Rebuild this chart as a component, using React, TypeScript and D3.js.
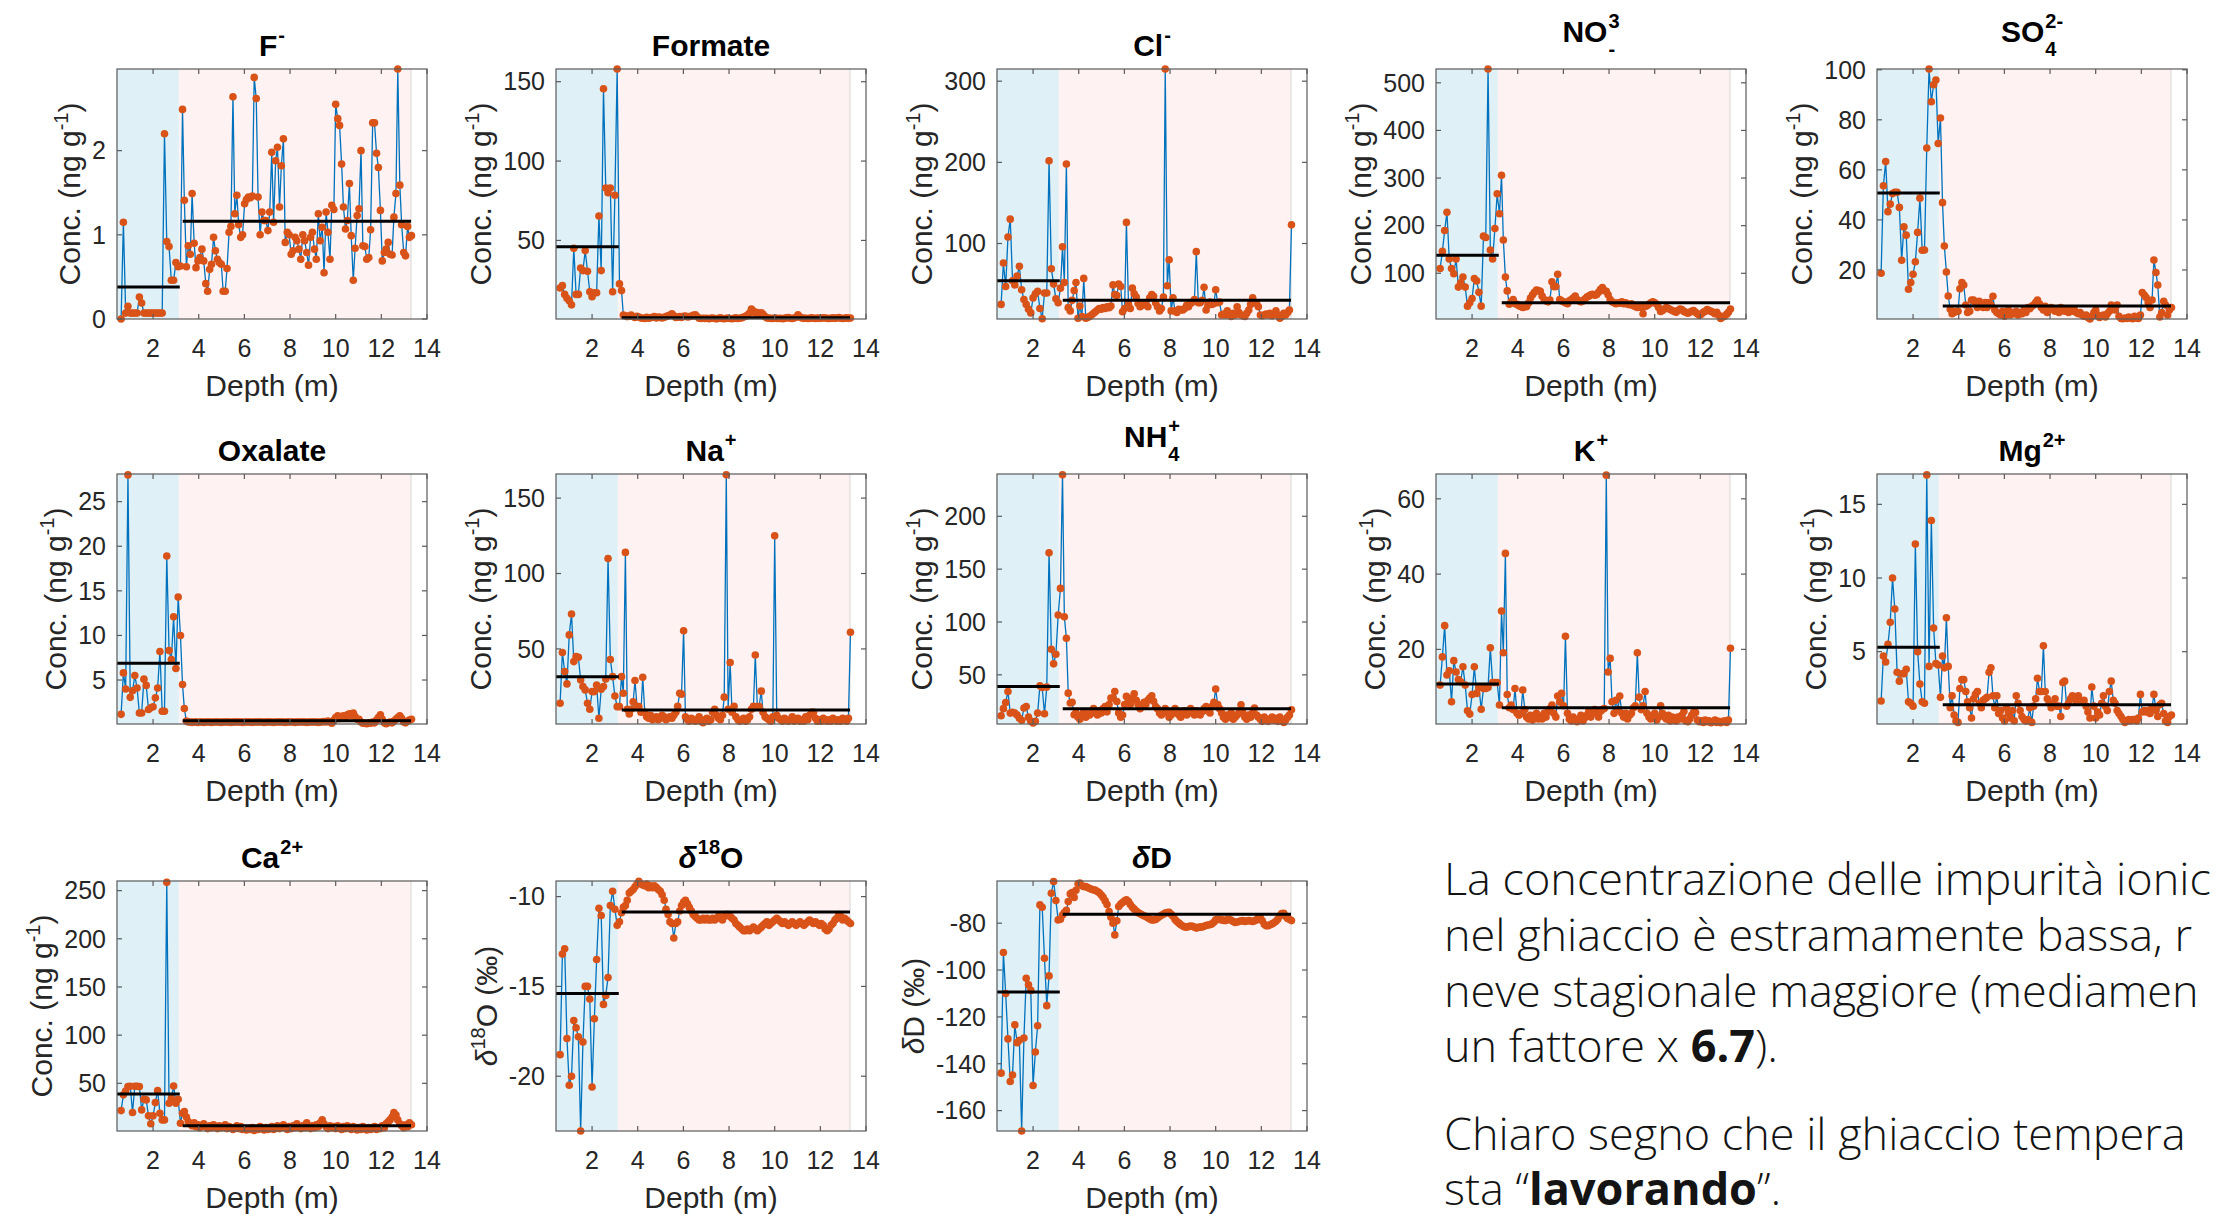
import React from 'react';
import * as d3 from 'd3';

// ---------- sampling depths (m) ----------
const snowDepth = [0.6,0.7,0.8,0.9,1.0,1.1,1.2,1.3,1.4,1.5,1.6,1.7,1.8,1.9,2.0,2.1,2.2,2.3,2.4,2.5,2.6,2.7,2.8,2.9,3.0,3.1];
const iceDepth = [3.20,3.29,3.37,3.46,3.54,3.63,3.71,3.80,3.88,3.97,4.05,4.14,4.22,4.31,4.39,4.48,4.56,4.65,4.73,4.82,
4.90,4.99,5.07,5.16,5.24,5.33,5.41,5.50,5.58,5.67,5.75,5.84,5.92,6.01,6.09,6.18,6.26,6.35,6.43,6.52,
6.60,6.69,6.77,6.86,6.94,7.03,7.11,7.20,7.28,7.37,7.45,7.54,7.62,7.71,7.79,7.88,7.96,8.05,8.13,8.22,
8.30,8.39,8.47,8.56,8.64,8.73,8.81,8.90,8.98,9.07,9.15,9.24,9.32,9.41,9.49,9.58,9.66,9.75,9.83,9.92,
10.00,10.09,10.17,10.26,10.34,10.43,10.51,10.60,10.68,10.77,10.85,10.94,11.02,11.11,11.19,11.28,11.36,11.45,11.53,11.62,
11.70,11.79,11.87,11.96,12.04,12.13,12.21,12.30,12.38,12.47,12.55,12.64,12.72,12.81,12.89,12.98,13.06,13.15,13.23,13.32];

// ---------- series ----------
const fSnow = [0,1.15,0.07,0.15,0.07,0.07,0.07,0.07,0.26,0.19,0.07,0.07,0.07,0.07,0.07,0.07,0.07,0.07,0.07,2.2,0.92,0.86,0.46,0.46,0.67,0.62];
const fIce = [0.63,2.49,1.41,0.62,0.87,0.77,1.49,0.9,0.61,0.69,
0.73,0.83,0.69,0.42,0.33,0.59,0.65,0.97,0.81,0.71,
0.67,0.65,0.33,0.33,0.6,1.03,1.1,2.64,1.25,1.47,
1.12,0.97,1.0,1.37,1.42,1.45,1.44,1.46,2.87,2.62,
1.45,1.0,1.27,1.17,1.17,1.05,1.27,1.98,1.15,1.88,
2.04,1.33,1.82,2.14,0.91,1.03,1.0,0.77,0.81,0.97,
0.93,0.83,0.71,1.0,0.93,0.79,0.64,0.97,1.03,0.83,
0.71,1.25,0.93,1.09,0.55,1.27,1.03,0.71,1.35,1.3,
2.55,2.38,2.3,1.84,1.33,1.07,1.17,1.61,0.99,0.46,
0.84,1.23,1.31,2.0,0.87,0.86,0.71,0.73,1.06,2.33,
2.33,1.97,1.8,1.29,0.69,0.79,0.83,0.91,0.77,0.76,
1.21,1.49,2.97,1.59,1.12,0.79,0.75,1.1,0.97,0.99];

const formateSnow = [20,21.5,16,13.6,12,9.4,45,16,16,32.6,31,43.6,30.6,17.7,14.5,17,17,65.4,31,145.6,83,80,83,17.7,78.5,158];
const formateIce = [22.6,18.4,3,2.5,2,2.2,3,2,1.5,2.2,
1.8,1.2,1,0.8,1.5,1,1.3,1.6,2,1.2,
1.8,1.5,1.2,1.6,2,2.5,3,3.8,2.5,1.5,
1.6,2,1.4,2.2,2.4,1.8,2,2.2,2.8,3.2,
2,1,0.8,1,0.8,1,0.7,0.9,1.1,0.8,
0.6,0.9,1.2,0.8,0.7,0.9,1,0.8,0.7,0.9,
1.2,0.8,1,1.3,1.8,2.2,3,4.2,6.8,5.5,
4.2,4.6,3.8,4.4,3.5,2,1.2,1,0.9,0.8,
1.1,0.9,0.8,1,0.7,0.9,1.2,1.4,1,0.8,
1.1,1.6,3.2,1.8,1.1,0.9,1,0.8,0.9,1.2,
1,0.8,1.1,0.9,1,1.3,1.1,0.9,0.8,1,
1.2,0.9,1.1,1.4,1,0.8,1,1.2,0.9,1.1];

const clSnow = [25,76,47,108,130,54,49,60,72,43,31,25,19,14.5,33,38,41,20,7.4,39,39,202,69,50,32,27];
const clIce = [45,96,52,198,21,17,30,42,52,8,
23,10,57,8,9,10,12,14,16,18,
20,19,21,20,22,21,23,49,37,36,
50,47,16,20,126,25,20,45,38,34,
26,22,24,27,25,22,33,37,35,27,
22,17,20,34,315,48,80,17,33,17,
15,19,18,18,20,24,22,26,28,31,
90,27,27,30,46,18,24,28,25,26,
43,27,28,12,13,12,17,13,10,14,
12,22,15,12,11,10,14,18,25,33,
28,26,22,12,11,12,13,12,14,11,
13,17,12,8,10,14,12,15,18,123];

const no3Snow = [110,146,190,228,130,110,99,130,71,80,92,71,31,38,47,89,84,60,31,178,175,529,149,130,194,267];
const no3Ice = [225,306,170,92,63,35,40,45,36,35,
32,30,28,32,30,38,48,55,60,65,
64,62,52,45,42,40,44,82,72,72,
98,45,42,40,38,36,42,45,48,52,
45,42,40,42,46,50,52,55,56,54,
55,60,66,70,64,62,55,45,40,38,
36,38,37,40,36,38,35,34,36,32,
30,28,30,28,15,30,32,35,38,40,
38,35,28,20,22,25,28,26,24,22,
20,18,22,25,24,20,18,16,18,20,
22,18,15,12,14,18,20,24,22,20,
18,15,18,12,5,8,10,14,18,25];

const so4Snow = [18.7,53.6,63.3,43.3,46.3,50.5,51,51,45,23.9,37.2,33.9,12.3,15,18.3,23.3,35,48.7,27.9,28,68.7,100.3,87.2,94,95.9,70.5];
const so4Ice = [80.7,46.9,29.6,19.2,9.6,4.3,2.5,3,3.5,3.5,
12.5,15,14,6,3,3.5,8,8,7,5,
7.5,6.5,5,7,5,7,6,9.5,4,3,
2.5,2,3.5,1.5,2.5,4,2,3,2.5,3.5,
2,3,2.5,4,3,5,4.5,5.5,6,7,
8,6.5,5,4,5.5,3,4,5,4.5,3.5,
4,3,5,4,3.5,4,3,4.5,3.5,4,
3,2.5,3,2,1.5,2,1,0.4,1.5,3,
4,2,1,1.5,2,1.2,2.5,3.5,6,5,
4,6,1.5,0.6,0.5,0.8,0.6,1.2,0.7,0.5,
1.5,0.8,0.6,2,11,10,9,7,5,8,
24,19,14,1.2,3,7.5,6,2,4,5];

const oxSnow = [1.15,5.8,4.0,28,3.06,3.8,5.5,4.1,1.3,1.3,5.1,4.4,1.7,1.9,2.0,3.0,4.1,8.2,1.5,1.5,18.9,8.3,7.3,12.1,6.3,14.3];
const oxIce = [10,4.5,1.8,0.4,0.3,0.3,0.25,0.3,0.3,0.25,
0.3,0.3,0.25,0.3,0.3,0.3,0.25,0.3,0.3,0.3,
0.3,0.25,0.3,0.3,0.3,0.3,0.25,0.3,0.3,0.3,
0.3,0.3,0.25,0.3,0.3,0.3,0.3,0.25,0.3,0.3,
0.3,0.3,0.3,0.25,0.3,0.3,0.3,0.3,0.25,0.3,
0.3,0.3,0.3,0.3,0.25,0.3,0.3,0.3,0.3,0.25,
0.3,0.3,0.3,0.3,0.3,0.25,0.3,0.3,0.3,0.3,
0.3,0.25,0.3,0.3,0.35,0.3,0.4,0.3,0.15,0.5,
0.8,1,0.7,0.9,1,0.8,1.1,1.2,1,1.3,
0.9,0.6,0.6,0.3,0.15,0.15,0.1,0.2,0.15,0.3,
0.2,0.5,0.8,1.1,0.6,0.2,0.1,0.2,0.3,0.2,
0.4,0.6,0.8,1,0.7,0.3,0.2,0.4,0.5,0.6];

const naSnow = [14,47.6,35,26.8,59.3,73.2,41.6,45,44.5,29.4,25,22.8,14,10,21.7,21.7,26,4,23.2,25,30,110,43,31.6,18.8,11.7];
const naIce = [11.7,31.6,20.6,114,10,6.9,10,15,29,12,
11.7,8,31.2,8,5,4,6,3,4,5,
3,4,6,5,3,4,5,4,6,8,
12,20.6,20,62,5,3,2,4,3,2,
3,5,2,1,3,4,2,3,8,10,
6,4,3,6,18,165.5,10,41,8,12,
5,3,2,3,4,2,3,5,10,12,
46,11.7,11.7,22,8,5,4,3,2,5,
125,6,4,3,2,4,3,2,3,5,
2,3,4,2,3,2,5,3,6,8,
8,4,2,3,2,4,3,2,3,2,
4,3,2,3,2,4,3,2,4,61];

const nh4Snow = [11.3,18,23.9,34.3,13.8,14.5,13.8,12,9,7,18.6,20,10,6,4.4,6,13.8,39.6,38,13.2,38.4,165.4,74.2,60.4,69.5,106.6];
const nh4Ice = [131.8,239.3,105,84.6,32.7,23.3,24,12.3,14,10,
8,12,15,10,13,12,14,18,15,12,
16,14,18,20,15,22,28,28,34.3,24.8,
14,10,12,22,29.6,25,22,28,32,26,
22,18,20,24,22,26,28,30.2,25,20,
18,14,12,15,18,14,10,12,15,18,
14,12,10,14,16,12,15,18,14,12,
16,14,12,15,18,20,16,14,20,24,
36.5,22,18,14,10,8,12,10,14,8,
10,12,14,21.7,14,10,8,12,10,14,
18.6,12,10,8,6,10,8,6,8,10,
7,9,6,10,8,5,7,10,12,17];

const kSnow = [10.5,18,26.3,13.2,14.3,6.1,17,14,12,11.4,15.4,10.5,3.7,2.8,8,15.4,8.3,9.9,4.1,9.6,9.6,9.9,20.4,11.2,11.2,11.2];
const kIce = [5.2,30.2,19.1,45.5,8,4.5,5.2,4,9.6,3,
2.5,3,9.2,4,2,1.5,2.5,1.2,2,3,
1.5,2.2,1.5,3,2,3.5,4.3,5.2,3,2,
7.6,6,8.3,5,23.5,3,1.5,1,2,1.2,
0.8,1.5,2.5,1,1.8,2.5,3.5,2,3,4,
3,2,3.5,4,4.3,66.3,14,17.6,6.1,3,
6.5,4,7.6,3,2,3,1.5,2.5,3,4.5,
5,19.1,7.3,4,5,8.8,3,2,1.5,2.5,
3,1.2,2,5,3,2,1.5,2.5,1,2,
1.5,1,2,1.5,2.5,3.5,1,0.8,1.5,2.5,
3.2,3.2,1.2,0.8,1,0.6,1.2,0.8,1,0.5,
0.8,1.2,0.6,0.9,0.5,0.8,1,0.6,1.2,20.3];

const mgSnow = [1.65,4.7,4.3,5.5,7.0,10.0,7.9,3.6,3.0,3.5,3.5,3.8,1.6,1.5,1.3,12.3,5,2.8,1.6,1.5,17.0,4.0,13.9,6.6,4.2,4.1];
const mgIce = [1.9,4.7,3.9,7.3,4.0,1.2,2.0,0.7,0.3,0.2,
2.5,3.1,3.1,2.3,1.6,1.2,0.5,1.8,2.1,2.3,
1.5,1.2,1.7,1.8,1.9,3.6,3.9,2.0,1.2,2.0,
0.8,1.0,0.5,0.3,1.2,0.8,0.5,1.0,0.3,2.0,
1.5,1.0,0.6,0.4,0.3,0.4,1.2,0.2,1.3,1.8,
3.2,2.3,2.3,5.4,2.3,1.8,1.5,1.2,1.5,1.8,
1.3,1.3,0.6,2.9,3.0,1.3,1.5,1.8,2.0,1.8,
1.6,2.0,1.7,1.6,1.7,1.3,0.9,0.5,2.6,1.3,
0.5,0.9,0.7,1.5,2.0,1.3,1.0,2.3,3.0,1.7,
1.5,1.0,0.8,0.6,0.4,0.2,0.3,0.4,0.3,0.4,
0.4,0.3,0.5,2.1,0.9,1.0,0.9,1.0,0.8,1.2,
2.1,1.0,0.6,1.4,1.5,0.8,0.3,0.2,0.6,0.7];

const caSnow = [21.7,38,42,46.6,47,19.7,47,47,46.6,22.4,33.4,32.8,16.2,8,16.2,30,42.4,19,12,12,258.6,29.3,34.5,47.2,29.3,33.4];
const caIce = [8.6,19,20.7,15,10.3,8,6,9,5,7,
4,6,8,5,3,6,4,7,5,3,
6,4,5,7,3,5,4,2,4,6,
3,5,2,3,1.5,3,2,4,1,3,
2,5,3,1.5,4,2,3,5,2,4,
6,3,5,7,4,2,5,3,6,4,
8,5,3,6,4,9,5,3,6,4,
7,5,9,12,8,5,3,6,4,5,
3,6,4,2,5,3,6,4,2,5,
3,1.5,4,2,5,3,1.5,4,2,3,
5,2,4,3,6,4,8,10,12,15,
19.7,17,12,8,6,4,7,5,9,7];

const d18oSnow = [-18.8,-13.2,-12.9,-17.9,-20.5,-20.0,-16.9,-17.3,-17.8,-23.05,-18.1,-15.0,-15.0,-15.7,-20.6,-16.8,-13.5,-10.65,-11.05,-16.0,-15.5,-14.5,-10.5,-9.7,-10.7,-11.6];
const d18oIce = [-11.4,-10.9,-10.6,-10.5,-10.2,-9.8,-9.7,-9.6,-9.45,-9.3,
-9.15,-9.3,-9.35,-9.4,-9.3,-9.5,-9.4,-9.5,-9.4,-9.5,
-9.6,-9.7,-9.9,-10.2,-10.7,-11.0,-11.4,-11.5,-12.3,-11.5,
-11.4,-10.8,-10.5,-10.3,-10.2,-10.4,-10.6,-10.8,-11.0,-11.1,
-11.2,-11.3,-11.3,-11.2,-11.3,-11.2,-11.3,-11.3,-11.2,-11.3,
-11.2,-11.1,-11.2,-11.3,-11.1,-11.0,-11.0,-11.1,-11.2,-11.3,
-11.5,-11.6,-11.7,-11.8,-11.9,-11.9,-11.8,-11.9,-11.8,-11.7,
-11.8,-11.9,-11.8,-11.7,-11.6,-11.5,-11.4,-11.6,-11.5,-11.4,
-11.3,-11.2,-11.3,-11.4,-11.5,-11.4,-11.5,-11.6,-11.5,-11.4,
-11.5,-11.6,-11.5,-11.4,-11.5,-11.6,-11.5,-11.4,-11.3,-11.4,
-11.5,-11.4,-11.5,-11.6,-11.5,-11.6,-11.8,-11.9,-11.8,-11.6,
-11.5,-11.3,-11.2,-11.0,-11.1,-11.3,-11.2,-11.3,-11.4,-11.5];

const dDSnow = [-144,-92.5,-110,-129.4,-147.6,-144.8,-123.4,-131,-130,-168.7,-129,-103.5,-106.3,-108.7,-149.3,-135,-123.8,-72.2,-73.2,-95,-115.2,-102.5,-67.2,-62.2,-70.3,-78.6];
const dDIce = [-78.3,-76.5,-75.5,-74.5,-70.8,-67.5,-66.9,-69,-66,-63.2,
-62.9,-64,-64.4,-64.4,-64.8,-65.2,-65.5,-65.8,-66,-66.5,
-67,-68,-69,-70.5,-72,-75,-77.5,-80,-85,-79,
-72.9,-71.8,-71.2,-70.5,-70,-70.8,-72,-73.2,-74,-74.8,
-75.5,-76,-76.4,-76.8,-77.2,-77.7,-78.2,-78.6,-78.6,-78.4,
-77.8,-77.2,-76.6,-76.2,-75.7,-75.5,-75.4,-76.2,-77,-78.4,
-79.3,-80,-80.7,-81.2,-81.6,-81.7,-81.4,-81.2,-81.3,-81.7,
-82.1,-81.8,-81.7,-81.6,-81.3,-81,-80.8,-80.6,-80.4,-79.6,
-78.6,-78.4,-78.4,-78.6,-78.8,-78.9,-78.5,-78.4,-78.8,-79.3,
-79.7,-79.5,-79.3,-79,-78.9,-79.3,-79.1,-78.9,-79.1,-79.3,
-79,-78.6,-77.6,-77.8,-79,-80.5,-81.1,-81.1,-80.7,-80.3,
-79.8,-79.2,-78.3,-76.8,-75.9,-75.8,-77,-78,-78.3,-78.9];

// ---------- axis ranges, ticks ----------
const xDomain = [0.42, 14];
const xTicks = [2, 4, 6, 8, 10, 12, 14];
const snowEnd = 3.13;
const iceEnd = 13.3;
const snowMeanSpan = [0.42, 3.17];
const iceMeanSpan = [3.3, 13.3];

// visible text of the note (as cut by the slide edge)
const textLines = [
  'La concentrazione delle impurità ionic',
  'nel ghiaccio è estramamente bassa, r',
  'neve stagionale maggiore (mediamen',
];

// ---------- layout ----------
const colLeft = [117, 556, 997, 1436, 1877];
const rowTop = [69, 474, 881];
const PW = 310;
const PH = 250;
const FONT = '"Liberation Sans", Arial, Helvetica, sans-serif';
const TICK_FS = 25;
const LABEL_FS = 30;
const TITLE_FS = 30;
const SCRIPT_FS = 20;

type Part = { t?: string; sup?: string; sub?: string; it?: boolean };

const panels: any[] = [
  { title: [{ t: 'F' }, { sup: '-' }], snow: fSnow, ice: fIce, dom: [0, 2.97], ticks: [0, 1, 2], means: [0.38, 1.16], ylab: 'conc', col: 0, row: 0 },
  { title: [{ t: 'Formate' }], snow: formateSnow, ice: formateIce, dom: [0.5, 158], ticks: [50, 100, 150], means: [46, 1.3], ylab: 'conc', col: 1, row: 0 },
  { title: [{ t: 'Cl' }, { sup: '-' }], snow: clSnow, ice: clIce, dom: [7, 315], ticks: [100, 200, 300], means: [54, 30], ylab: 'conc', col: 2, row: 0 },
  { title: [{ t: 'NO' }, { sup: '3', sub: '-' }], snow: no3Snow, ice: no3Ice, dom: [4, 529], ticks: [100, 200, 300, 400, 500], means: [138, 38], ylab: 'conc', col: 3, row: 0 },
  { title: [{ t: 'SO' }, { sup: '2-', sub: '4' }], snow: so4Snow, ice: so4Ice, dom: [0.4, 100.3], ticks: [20, 40, 60, 80, 100], means: [50.7, 5.6], ylab: 'conc', col: 4, row: 0 },
  { title: [{ t: 'Oxalate' }], snow: oxSnow, ice: oxIce, dom: [0.07, 28.1], ticks: [5, 10, 15, 20, 25], means: [6.87, 0.44], ylab: 'conc', col: 0, row: 1 },
  { title: [{ t: 'Na' }, { sup: '+' }], snow: naSnow, ice: naIce, dom: [0.2, 166], ticks: [50, 100, 150], means: [31.6, 9.5], ylab: 'conc', col: 1, row: 1 },
  { title: [{ t: 'NH' }, { sup: '+', sub: '4' }], snow: nh4Snow, ice: nh4Ice, dom: [3.5, 240], ticks: [50, 100, 150, 200], means: [39, 17.9], ylab: 'conc', col: 2, row: 1 },
  { title: [{ t: 'K' }, { sup: '+' }], snow: kSnow, ice: kIce, dom: [0.17, 66.6], ticks: [20, 40, 60], means: [10.8, 4.5], ylab: 'conc', col: 3, row: 1 },
  { title: [{ t: 'Mg' }, { sup: '2+' }], snow: mgSnow, ice: mgIce, dom: [0.09, 17.06], ticks: [5, 10, 15], means: [5.3, 1.4], ylab: 'conc', col: 4, row: 1 },
  { title: [{ t: 'Ca' }, { sup: '2+' }], snow: caSnow, ice: caIce, dom: [0.5, 260], ticks: [50, 100, 150, 200, 250], means: [39, 5.9], ylab: 'conc', col: 0, row: 2 },
  { title: [{ t: 'δ', it: true }, { sup: '18' }, { t: 'O' }], snow: d18oSnow, ice: d18oIce, dom: [-23.05, -9.13], ticks: [-20, -15, -10], means: [-15.4, -10.85], ylab: 'd18o', col: 1, row: 2 },
  { title: [{ t: 'δ', it: true }, { t: 'D' }], snow: dDSnow, ice: dDIce, dom: [-168.7, -62], ticks: [-160, -140, -120, -100, -80], means: [-109.4, -76.2], ylab: 'dd', col: 2, row: 2 },
];

let ctx: CanvasRenderingContext2D | null = null;
function tw(s: string, size: number, weight = 'normal', style = 'normal') {
  if (!ctx) ctx = document.createElement('canvas').getContext('2d');
  if (!ctx) return s.length * size * 0.55;
  ctx.font = `${style} ${weight} ${size}px ${FONT}`;
  return ctx.measureText(s).width;
}

function Title({ parts, cx, top }: { parts: Part[]; cx: number; top: number }) {
  const hasSub = parts.some((p) => p.sub);
  const by = hasSub ? top - 27 : top - 13;
  const widths = parts.map((p) =>
    p.t != null
      ? tw(p.t, TITLE_FS, 'bold', p.it ? 'italic' : 'normal')
      : Math.max(p.sup ? tw(p.sup, SCRIPT_FS, 'bold') : 0, p.sub ? tw(p.sub, SCRIPT_FS, 'bold') : 0) + 1
  );
  const total = d3.sum(widths);
  let x = cx - total / 2;
  const els: any[] = [];
  parts.forEach((p, i) => {
    if (p.t != null) {
      els.push(
        <text key={i} x={x} y={by} fontSize={TITLE_FS} fontWeight="bold" fontStyle={p.it ? 'italic' : 'normal'}>
          {p.t}
        </text>
      );
    } else {
      if (p.sup) els.push(<text key={i + 's'} x={x + 1} y={by - 14} fontSize={SCRIPT_FS} fontWeight="bold">{p.sup}</text>);
      if (p.sub) els.push(<text key={i + 'b'} x={x + 1} y={by + 14} fontSize={SCRIPT_FS} fontWeight="bold">{p.sub}</text>);
    }
    x += widths[i];
  });
  return <g fill="#000" fontFamily={FONT}>{els}</g>;
}

function YLabel({ kind, x, y }: { kind: string; x: number; y: number }) {
  const common = { transform: `translate(${x},${y}) rotate(-90)`, textAnchor: 'middle' as const, fontSize: LABEL_FS, fill: '#262626', fontFamily: FONT };
  if (kind === 'conc')
    return (
      <text {...common}>
        Conc. (ng g<tspan dy={-12} fontSize={SCRIPT_FS}>-1</tspan>
        <tspan dy={12}>)</tspan>
      </text>
    );
  if (kind === 'd18o')
    return (
      <text {...common}>
        <tspan fontStyle="italic">δ</tspan>
        <tspan dy={-12} fontSize={SCRIPT_FS}>18</tspan>
        <tspan dy={12}>O (‰)</tspan>
      </text>
    );
  return (
    <text {...common}>
      <tspan fontStyle="italic">δ</tspan>D (‰)
    </text>
  );
}

function Panel({ p }: { p: any }) {
  const left = colLeft[p.col];
  const top = rowTop[p.row];
  const x = d3.scaleLinear().domain(xDomain).range([left, left + PW]);
  const y = d3.scaleLinear().domain(p.dom).range([top + PH, top]);
  const depth = snowDepth.concat(iceDepth);
  const vals: number[] = p.snow.concat(p.ice);
  const pts = depth.map((d, i) => [x(d), y(vals[i])] as [number, number]);
  const path = d3.line()(pts) || '';
  const maxTW = d3.max(p.ticks as number[], (t) => tw(String(t), TICK_FS)) || 0;
  const ylx = left - 11 - maxTW - 12;
  const axisCol = '#5a5a5a';
  const tl = 5;
  const x0 = x(xDomain[0]);
  return (
    <g>
      <rect x={left} y={top} width={PW} height={PH} fill="#fff" />
      <rect x={x0} y={top} width={x(snowEnd) - x0} height={PH} fill="#dff0f7" />
      <rect x={x(snowEnd)} y={top} width={x(iceEnd) - x(snowEnd)} height={PH} fill="#fef2f2" />
      <line x1={x(iceEnd)} x2={x(iceEnd)} y1={top} y2={top + PH} stroke="#d6d6d6" strokeWidth={1} />
      <path d={path} fill="none" stroke="#0072bd" strokeWidth={1.3} />
      {pts.map(([cx, cy], i) => (
        <circle key={i} cx={cx} cy={cy} r={3.8} fill="#d95319" />
      ))}
      <line x1={x(snowMeanSpan[0])} x2={x(snowMeanSpan[1])} y1={y(p.means[0])} y2={y(p.means[0])} stroke="#000" strokeWidth={3} />
      <line x1={x(iceMeanSpan[0])} x2={x(iceMeanSpan[1])} y1={y(p.means[1])} y2={y(p.means[1])} stroke="#000" strokeWidth={3} />
      <rect x={left} y={top} width={PW} height={PH} fill="none" stroke={axisCol} strokeWidth={1.2} />
      {xTicks.map((t) => (
        <g key={'x' + t}>
          <line x1={x(t)} x2={x(t)} y1={top + PH} y2={top + PH - tl} stroke={axisCol} strokeWidth={1.2} />
          <line x1={x(t)} x2={x(t)} y1={top} y2={top + tl} stroke={axisCol} strokeWidth={1.2} />
          <text x={x(t)} y={top + PH + 38} textAnchor="middle" fontSize={TICK_FS} fill="#262626" fontFamily={FONT}>
            {t}
          </text>
        </g>
      ))}
      {(p.ticks as number[]).map((t) => (
        <g key={'y' + t}>
          <line x1={left} x2={left + tl} y1={y(t)} y2={y(t)} stroke={axisCol} strokeWidth={1.2} />
          <line x1={left + PW} x2={left + PW - tl} y1={y(t)} y2={y(t)} stroke={axisCol} strokeWidth={1.2} />
          <text x={left - 11} y={y(t)} dy="0.35em" textAnchor="end" fontSize={TICK_FS} fill="#262626" fontFamily={FONT}>
            {String(t)}
          </text>
        </g>
      ))}
      <text x={left + PW / 2} y={top + PH + 77} textAnchor="middle" fontSize={LABEL_FS} fill="#262626" fontFamily={FONT}>
        Depth (m)
      </text>
      <YLabel kind={p.ylab} x={ylx} y={top + PH / 2} />
      <Title parts={p.title} cx={left + PW / 2} top={top} />
    </g>
  );
}

export default function App() {
  const noteFont = '"Open Sans", Lato, sans-serif';
  const nfs = 45;
  return (
    <svg
      width={2226}
      height={1220}
      viewBox="0 0 2226 1220"
      style={{ position: 'absolute', left: 0, top: 0, display: 'block', background: '#fff' }}
    >
      <rect x={0} y={0} width={2226} height={1220} fill="#fff" />
      {panels.map((p, i) => (
        <Panel key={i} p={p} />
      ))}
      <g fontFamily={noteFont} fontSize={nfs} fill="#141414" fontWeight={300}>
        <text x={1444} y={895}>{textLines[0]}</text>
        <text x={1444} y={951}>{textLines[1]}</text>
        <text x={1444} y={1007}>{textLines[2]}</text>
        <text x={1444} y={1062}>
          un fattore x <tspan fontWeight="bold">6.7</tspan>).
        </text>
        <text x={1444} y={1150}>Chiaro segno che il ghiaccio tempera</text>
        <text x={1444} y={1205}>
          sta “<tspan fontWeight="bold">lavorando</tspan>”.
        </text>
      </g>
    </svg>
  );
}
